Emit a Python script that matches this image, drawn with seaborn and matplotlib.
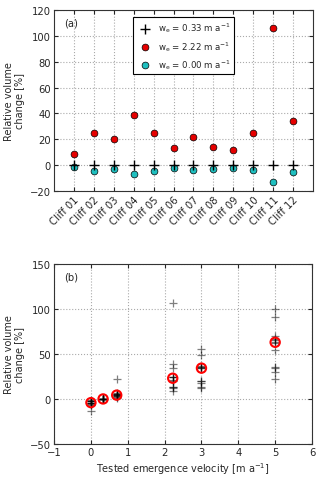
import numpy as np
import pandas as pd
import matplotlib
matplotlib.use("Agg")
import matplotlib.pyplot as plt
import seaborn as sns

cliffs = ["Cliff 01", "Cliff 02", "Cliff 03", "Cliff 04", "Cliff 05", "Cliff 06",
          "Cliff 07", "Cliff 08", "Cliff 09", "Cliff 10", "Cliff 11", "Cliff 12"]
we033 = [0, 0, 0, 0, 0, 0, 0, 0, 0, 0, 0, 0]
we222 = [8.7, 24.6, 20.5, 38.7, 24.6, 13.3, 21.5, 13.8, 11.8, 24.9, 106.2, 34.4]
we000 = [-1.5, -4.6, -2.8, -6.7, -4.6, -2.3, -4.1, -2.8, -2.0, -4.1, -13.0, -5.1]

velocities = [0.0, 0.33, 0.7, 2.22, 3.0, 5.0]
vel_07 = [1.0, 2.0, 3.0, 3.5, 4.0, 4.0, 4.5, 5.0, 5.0, 6.0, 7.0, 21.8]
vel_30 = [12.5, 13.5, 17.5, 19.5, 20.0, 34.0, 34.5, 35.5, 36.0, 37.0, 49.0, 56.0]
vel_50 = [22.0, 30.5, 34.5, 35.5, 54.0, 62.5, 63.5, 65.0, 67.0, 70.0, 91.0, 100.0]

sns.set_style("ticks")
plt.rcParams["font.family"] = ["DejaVu Sans"]
plt.rcParams["font.size"] = 7.2
plt.rcParams["xtick.direction"] = "in"
plt.rcParams["ytick.direction"] = "in"
plt.rcParams["mathtext.default"] = "regular"

fig = plt.figure(figsize=(3.2, 4.81), dpi=100)
ax1 = fig.add_axes([0.169, 0.601, 0.809, 0.376])
ax2 = fig.add_axes([0.169, 0.075, 0.806, 0.374])

xpos = np.arange(1, len(cliffs) + 1)
df_top = pd.DataFrame({"x": xpos, "a": we033, "b": we222, "c": we000})

sns.scatterplot(data=df_top, x="x", y="a", ax=ax1, marker="+", color="black",
                s=45, linewidth=1.0, label=r"w$_e$ = 0.33 m a$^{-1}$", zorder=4)
sns.scatterplot(data=df_top, x="x", y="b", ax=ax1, marker="o", color="#e50000",
                edgecolor="black", linewidth=0.5, s=24, label=r"w$_e$ = 2.22 m a$^{-1}$", zorder=3)
sns.scatterplot(data=df_top, x="x", y="c", ax=ax1, marker="o", color="#1fbfbf",
                edgecolor="black", linewidth=0.5, s=24, label=r"w$_e$ = 0.00 m a$^{-1}$", zorder=3)

ax1.set_xlim(0, 13)
ax1.set_ylim(-20, 120)
ax1.set_yticks(np.arange(-20, 121, 20))
ax1.set_yticklabels(["\u221220", "0", "20", "40", "60", "80", "100", "120"])
ax1.set_xticks(xpos)
ax1.set_xticklabels(cliffs, rotation=45, ha="right", rotation_mode="anchor", fontsize=7.4)
ax1.set_xlabel("")
ax1.set_ylabel("Relative volume\nchange [%]", fontsize=7, labelpad=3)
ax1.grid(True, linestyle=":", color="#aaaaaa", linewidth=0.8)
ax1.tick_params(top=True, right=True, labelsize=7.2, length=3, pad=2.5)
ax1.text(0.04, 0.93, "(a)", transform=ax1.transAxes, fontsize=7.2, va="center")
leg = ax1.legend(loc="upper center", bbox_to_anchor=(0.5, 0.985), fontsize=6.2,
                 frameon=True, fancybox=False, edgecolor="black", framealpha=1,
                 handletextpad=0.6, borderpad=0.4, labelspacing=0.5)
leg.get_frame().set_linewidth(0.8)

groups = [we000, we033, vel_07, we222, vel_30, vel_50]
rows = []
for v, vals in zip(velocities, groups):
    for val in vals:
        rows.append({"v": v, "val": val})
df_bot = pd.DataFrame(rows)
med = df_bot.groupby("v", as_index=False)["val"].median()

sns.scatterplot(data=df_bot, x="v", y="val", ax=ax2, marker="+", color="black",
                alpha=0.5, s=28, linewidth=0.9, zorder=3)
sns.scatterplot(data=med, x="v", y="val", ax=ax2, marker="o", facecolor="none",
                edgecolor="red", linewidth=1.5, s=45, zorder=4)

ax2.set_xlim(-1, 6)
ax2.set_ylim(-50, 150)
ax2.set_xticks(np.arange(-1, 7, 1))
ax2.set_xticklabels(["\u22121", "0", "1", "2", "3", "4", "5", "6"])
ax2.set_yticks(np.arange(-50, 151, 50))
ax2.set_yticklabels(["\u221250", "0", "50", "100", "150"])
ax2.set_xlabel(r"Tested emergence velocity [m a$^{-1}$]", fontsize=7, labelpad=2)
ax2.set_ylabel("Relative volume\nchange [%]", fontsize=7, labelpad=3)
ax2.grid(True, linestyle=":", color="#aaaaaa", linewidth=0.8)
ax2.tick_params(top=True, right=True, labelsize=7.2, length=3, pad=2.5)
ax2.text(0.04, 0.93, "(b)", transform=ax2.transAxes, fontsize=7.2, va="center")

for ax in (ax1, ax2):
    for sp in ax.spines.values():
        sp.set_linewidth(0.8)
        sp.set_color("#333333")

fig.savefig("out.png", dpi=100)
